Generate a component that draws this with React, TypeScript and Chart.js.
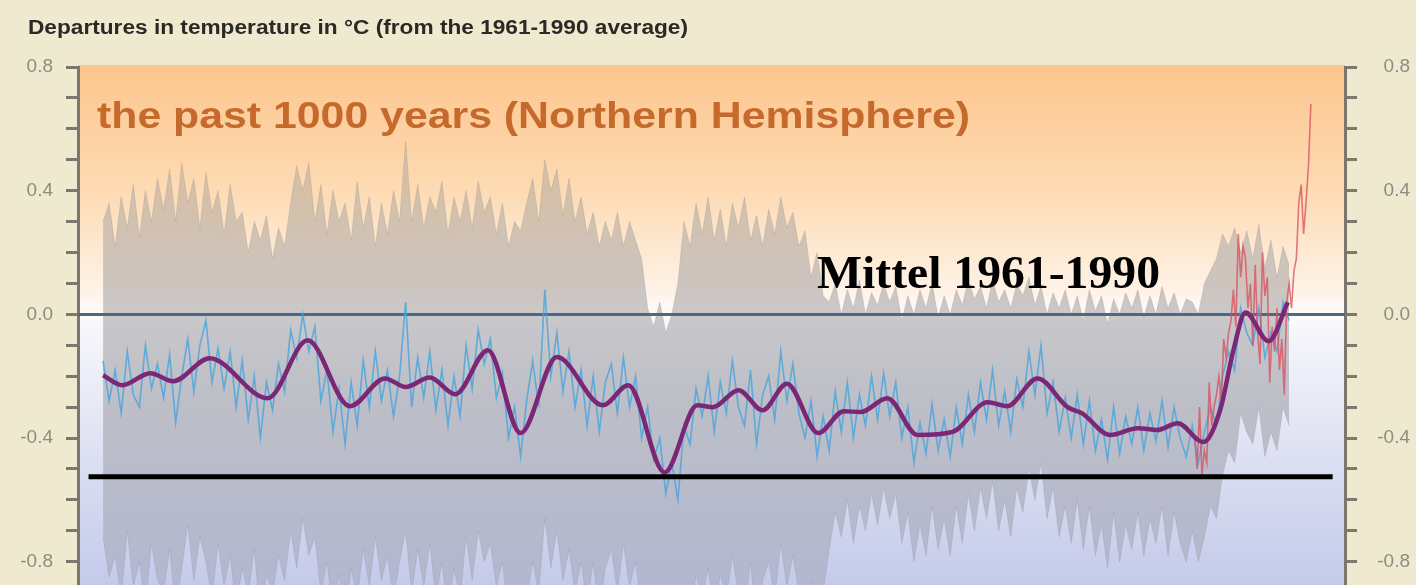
import { useEffect, useRef } from 'react';
import { Chart, registerables } from 'chart.js';

Chart.register(...registerables);

const TITLE = 'Departures in temperature in °C (from the 1961-1990 average)';
const SUBTITLE = 'the past 1000 years (Northern Hemisphere)';
const MEAN_LABEL = 'Mittel 1961-1990';

// Reconstruction (blue), sampled every 5 years 1000..1980
const RECON_START = 1000;
const RECON_STEP = 5;
const reconValues = [
  -0.15, -0.28, -0.18, -0.32, -0.12, -0.26, -0.30, -0.10, -0.24, -0.16, // 1000
  -0.27, -0.13, -0.35, -0.20, -0.08, -0.25, -0.10, -0.02, -0.22, -0.11, // 1050
  -0.24, -0.12, -0.30, -0.15, -0.34, -0.20, -0.40, -0.22, -0.31, -0.16, // 1100
  -0.25, -0.05, -0.14, 0.00, -0.12, -0.04, -0.28, -0.18, -0.38, -0.24, // 1150
  -0.42, -0.22, -0.36, -0.15, -0.30, -0.12, -0.28, -0.18, -0.33, -0.20, // 1200
  0.04, -0.30, -0.14, -0.27, -0.12, -0.31, -0.18, -0.36, -0.20, -0.33, // 1250
  -0.10, -0.24, -0.05, -0.16, -0.08, -0.27, -0.19, -0.40, -0.30, -0.46, // 1300
  -0.28, -0.15, -0.30, 0.08, -0.20, -0.06, -0.25, -0.12, -0.30, -0.18, // 1350
  -0.36, -0.20, -0.38, -0.22, -0.16, -0.32, -0.14, -0.30, -0.20, -0.40, // 1400
  -0.30, -0.47, -0.40, -0.58, -0.48, -0.60, -0.36, -0.42, -0.24, -0.33, // 1450
  -0.20, -0.38, -0.22, -0.32, -0.15, -0.30, -0.36, -0.18, -0.42, -0.26, // 1500
  -0.20, -0.34, -0.12, -0.28, -0.16, -0.32, -0.40, -0.28, -0.46, -0.33, // 1550
  -0.44, -0.25, -0.38, -0.22, -0.40, -0.26, -0.36, -0.20, -0.34, -0.19, // 1600
  -0.33, -0.22, -0.40, -0.30, -0.48, -0.35, -0.45, -0.29, -0.44, -0.34, // 1650
  -0.46, -0.30, -0.42, -0.26, -0.38, -0.22, -0.34, -0.18, -0.36, -0.25, // 1700
  -0.38, -0.21, -0.30, -0.12, -0.26, -0.10, -0.32, -0.22, -0.38, -0.27, // 1750
  -0.40, -0.26, -0.42, -0.28, -0.44, -0.34, -0.47, -0.30, -0.45, -0.33, // 1800
  -0.42, -0.30, -0.44, -0.32, -0.41, -0.28, -0.43, -0.30, -0.40, -0.46, // 1850
  -0.36, -0.48, -0.38, -0.30, -0.36, -0.20, -0.12, -0.18, 0.02, -0.06, // 1900
  -0.10, 0.02, -0.14, -0.06, -0.12, 0.04, -0.02, // 1950
];

// Uncertainty envelope (grey), same 5-year sampling
const upperValues = [
  0.30, 0.36, 0.22, 0.38, 0.28, 0.42, 0.25, 0.40, 0.30, 0.44,
  0.34, 0.47, 0.30, 0.49, 0.36, 0.44, 0.28, 0.46, 0.33, 0.40,
  0.26, 0.42, 0.30, 0.33, 0.20, 0.30, 0.24, 0.32, 0.18, 0.28,
  0.22, 0.36, 0.48, 0.40, 0.49, 0.30, 0.42, 0.26, 0.40, 0.30,
  0.36, 0.24, 0.43, 0.28, 0.38, 0.22, 0.36, 0.26, 0.40, 0.30,
  0.56, 0.30, 0.42, 0.28, 0.38, 0.33, 0.43, 0.26, 0.38, 0.30,
  0.40, 0.28, 0.43, 0.33, 0.38, 0.26, 0.36, 0.22, 0.30, 0.27,
  0.36, 0.44, 0.30, 0.50, 0.40, 0.47, 0.32, 0.44, 0.30, 0.38,
  0.26, 0.33, 0.22, 0.30, 0.24, 0.33, 0.22, 0.30, 0.24, 0.18,
  0.02, -0.04, 0.04, -0.06, 0.00, 0.10, 0.30, 0.22, 0.36, 0.26,
  0.38, 0.24, 0.34, 0.22, 0.36, 0.28, 0.38, 0.24, 0.32, 0.22,
  0.34, 0.26, 0.38, 0.28, 0.33, 0.22, 0.27, 0.12, 0.20, 0.06,
  0.04, 0.10, 0.00, 0.08, 0.02, 0.11, 0.00, 0.07, 0.03, 0.10,
  0.04, 0.09, -0.02, 0.06, 0.00, 0.08, 0.02, 0.10, -0.01, 0.06,
  0.00, 0.08, 0.03, 0.11, 0.05, 0.09, 0.02, 0.11, 0.04, 0.08,
  0.02, 0.10, 0.06, 0.12, 0.03, 0.09, 0.00, 0.07, 0.02, 0.08,
  0.00, 0.06, -0.02, 0.08, 0.01, 0.06, -0.03, 0.05, 0.00, 0.07,
  0.02, 0.08, -0.01, 0.06, 0.00, 0.09, 0.02, 0.07, 0.00, 0.05,
  0.04, 0.00, 0.10, 0.14, 0.18, 0.26, 0.22, 0.28, 0.20, 0.27,
  0.18, 0.29, 0.15, 0.24, 0.12, 0.22, 0.16,
];
const lowerValues = [
  -0.72, -0.85, -0.78, -0.92, -0.70, -0.88, -0.80, -0.95, -0.74, -0.86,
  -0.90, -0.76, -0.95, -0.82, -0.68, -0.86, -0.72, -0.80, -0.92, -0.74,
  -0.88, -0.78, -0.95, -0.82, -0.90, -0.76, -0.98, -0.84, -0.90, -0.78,
  -0.86, -0.70, -0.82, -0.66, -0.78, -0.72, -0.90, -0.80, -0.96, -0.84,
  -0.98, -0.82, -0.92, -0.76, -0.88, -0.72, -0.86, -0.78, -0.92, -0.80,
  -0.70, -0.90, -0.76, -0.88, -0.74, -0.92, -0.80, -0.96, -0.82, -0.92,
  -0.72, -0.86, -0.70, -0.80, -0.74, -0.88, -0.80, -0.98, -0.90, -1.00,
  -0.92, -0.80, -0.90, -0.66, -0.82, -0.70, -0.86, -0.76, -0.90, -0.80,
  -0.94, -0.80, -0.96, -0.82, -0.76, -0.90, -0.74, -0.88, -0.80, -0.96,
  -0.90, -1.00, -0.98, -1.00, -1.00, -1.00, -0.94, -0.98, -0.84, -0.92,
  -0.82, -0.96, -0.84, -0.92, -0.78, -0.90, -0.96, -0.80, -1.00, -0.86,
  -0.80, -0.92, -0.74, -0.88, -0.78, -0.90, -0.98, -0.86, -1.00, -0.90,
  -0.76, -0.64, -0.72, -0.60, -0.74, -0.62, -0.70, -0.58, -0.68, -0.56,
  -0.66, -0.58, -0.74, -0.64, -0.80, -0.68, -0.78, -0.62, -0.76, -0.66,
  -0.78, -0.62, -0.74, -0.58, -0.70, -0.56, -0.66, -0.54, -0.70, -0.60,
  -0.72, -0.56, -0.64, -0.50, -0.60, -0.48, -0.66, -0.56, -0.72, -0.62,
  -0.74, -0.60, -0.76, -0.62, -0.78, -0.68, -0.82, -0.64, -0.80, -0.68,
  -0.76, -0.64, -0.78, -0.66, -0.74, -0.62, -0.78, -0.64, -0.74, -0.80,
  -0.70, -0.80, -0.72, -0.62, -0.66, -0.52, -0.44, -0.48, -0.32, -0.38,
  -0.42, -0.30, -0.46, -0.38, -0.44, -0.30, -0.36,
];

// 40-year smoothed curve (purple)
const smoothYears = [
  1000, 1016, 1039, 1058, 1088, 1136, 1169, 1204, 1233, 1250, 1270, 1291, 1318, 1345, 1375,
  1413, 1434, 1464, 1491, 1504, 1525, 1545, 1565, 1591, 1612, 1626, 1648, 1673, 1702, 1731,
  1747, 1772, 1797, 1809, 1832, 1855, 1871, 1888, 1909, 1923, 1934, 1944, 1963, 1979,
];
const smoothValues = [
  -0.197, -0.229, -0.19, -0.216, -0.142, -0.271, -0.084, -0.297, -0.207, -0.235, -0.204, -0.258, -0.116, -0.384, -0.138,
  -0.294, -0.229, -0.511, -0.294, -0.30, -0.245, -0.31, -0.224, -0.384, -0.313, -0.316, -0.271, -0.39, -0.38, -0.284,
  -0.297, -0.207, -0.30, -0.32, -0.39, -0.368, -0.374, -0.352, -0.413, -0.31, -0.116, 0.006, -0.087, 0.039,
];

// Instrumental record (red), every 2 years 1902..1998
const INSTR_START = 1902;
const INSTR_STEP = 2;
const instrValues = [
  -0.40, -0.50, -0.30, -0.52, -0.44, -0.48, -0.22, -0.36, -0.30, -0.26,
  -0.20, -0.28, -0.08, -0.14, -0.06, -0.02, 0.08, -0.04, 0.26, 0.12,
  0.22, 0.18, 0.02, 0.10, -0.10, 0.16, -0.06, -0.16, 0.20, 0.06,
  0.12, -0.22, -0.04, -0.12, 0.02, -0.18, -0.08, -0.26, 0.04, 0.10,
  0.02, 0.14, 0.18, 0.36, 0.42, 0.26, 0.36, 0.48, 0.68,
];

const zeroLineYears = [979.3, 2026.2];
const zeroLineValue = 0;
const blackLineYears = [988, 2016];
const blackLineValue = -0.525;

const X_MIN = 979.3;
const X_MAX = 2026.2;
const Y_MIN = -1.0;
const Y_MAX = 0.8;
const yTickValues = [-0.8, -0.7, -0.6, -0.5, -0.4, -0.3, -0.2, -0.1, 0, 0.1, 0.2, 0.3, 0.4, 0.5, 0.6, 0.7, 0.8];
const yMajorValues = [0.8, 0.4, 0, -0.4, -0.8];
const yMajorLabels = ['0.8', '0.4', '0.0', '-0.4', '-0.8'];

const BEIGE = '#efe9d0';
const AXIS_COLOR = '#7a786e';
const TICK_LABEL_COLOR = '#8e8c80';

function series(start: number, step: number, values: number[]) {
  return values.map((v, i) => ({ x: start + i * step, y: v }));
}
function pairs(xs: number[], ys: number[]) {
  return xs.map((x, i) => ({ x, y: ys[i] }));
}

function drawFitted(ctx: CanvasRenderingContext2D, text: string, x: number, baseline: number, font: string, color: string, width: number) {
  ctx.save();
  ctx.font = font;
  ctx.fillStyle = color;
  ctx.textBaseline = 'alphabetic';
  ctx.textAlign = 'left';
  const w = ctx.measureText(text).width;
  ctx.translate(x, baseline);
  ctx.scale(width / w, 1);
  ctx.fillText(text, 0, 0);
  ctx.restore();
}

const backgroundPlugin = {
  id: 'bgPlugin',
  beforeDraw(chart: any) {
    const { ctx, chartArea } = chart;
    ctx.save();
    ctx.fillStyle = BEIGE;
    ctx.fillRect(0, 0, chart.width, chart.height);
    if (chartArea) {
      const y = chart.scales.y;
      const top = y.getPixelForValue(0.8);
      const bottom = y.getPixelForValue(-0.87);
      const g = ctx.createLinearGradient(0, top, 0, bottom);
      g.addColorStop(0, 'rgb(253,198,142)');
      g.addColorStop(0.24, 'rgb(253,219,180)');
      g.addColorStop(0.41, 'rgb(254,239,224)');
      g.addColorStop(0.477, 'rgb(255,250,247)');
      g.addColorStop(0.51, 'rgb(246,246,251)');
      g.addColorStop(0.72, 'rgb(224,227,243)');
      g.addColorStop(1, 'rgb(196,202,234)');
      ctx.fillStyle = g;
      ctx.fillRect(chartArea.left, chartArea.top - 2, chartArea.right - chartArea.left, chartArea.bottom - chartArea.top + 2);
    }
    ctx.restore();
  },
};

const textPlugin = {
  id: 'textPlugin',
  afterDatasetsDraw(chart: any) {
    const ctx = chart.ctx as CanvasRenderingContext2D;
    drawFitted(ctx, TITLE, 28, 34, 'bold 20px "Liberation Sans", Arial, sans-serif', '#2a2925', 660);
    drawFitted(ctx, SUBTITLE, 97, 128, 'bold 37px "Liberation Sans", Arial, sans-serif', '#c56a2c', 873);
    drawFitted(ctx, MEAN_LABEL, 817, 288, 'bold 47px "Liberation Serif", "Times New Roman", serif', '#000000', 343);
  },
};

function greyFill(context: any) {
  const chart = context.chart;
  const ca = chart.chartArea;
  if (!ca) return 'rgba(150,150,156,0.5)';
  const y = chart.scales.y;
  const g = chart.ctx.createLinearGradient(0, y.getPixelForValue(0.55), 0, y.getPixelForValue(-0.95));
  g.addColorStop(0, 'rgba(150,146,146,0.34)');
  g.addColorStop(0.3, 'rgba(150,148,150,0.48)');
  g.addColorStop(0.55, 'rgba(150,150,156,0.52)');
  g.addColorStop(0.75, 'rgba(148,150,160,0.46)');
  g.addColorStop(1, 'rgba(148,150,162,0.34)');
  return g;
}

function yAxis(position: 'left' | 'right') {
  return {
    type: 'linear' as const,
    position,
    min: Y_MIN,
    max: Y_MAX,
    afterBuildTicks: (axis: any) => {
      axis.ticks = yTickValues.map((v) => ({ value: v }));
    },
    afterFit: (axis: any) => {
      axis.width = position === 'left' ? 78 : 65;
    },
    ticks: {
      autoSkip: false,
      padding: 13,
      color: TICK_LABEL_COLOR,
      crossAlign: position === 'left' ? ('near' as const) : ('far' as const),
      font: { family: '"Liberation Sans", Arial, sans-serif', size: 19 },
      callback: (value: any) => {
        const i = yMajorValues.findIndex((m) => Math.abs(m - Number(value)) < 1e-6);
        return i >= 0 ? yMajorLabels[i] : '';
      },
    },
    grid: {
      drawOnChartArea: false,
      drawTicks: true,
      tickLength: 12,
      tickWidth: 3,
      tickColor: AXIS_COLOR,
    },
    border: { display: true, color: AXIS_COLOR, width: 3 },
  };
}

export default function App() {
  const canvasRef = useRef<HTMLCanvasElement | null>(null);

  useEffect(() => {
    const canvas = canvasRef.current;
    if (!canvas) return;
    const chart = new Chart(canvas, {
      type: 'line',
      data: {
        datasets: [
          {
            label: 'upper',
            data: series(RECON_START, RECON_STEP, upperValues),
            borderColor: 'rgba(150,148,150,0.3)',
            borderWidth: 1,
            backgroundColor: greyFill,
            fill: 1,
            pointRadius: 0,
            tension: 0,
            order: 7,
          },
          {
            label: 'lower',
            data: series(RECON_START, RECON_STEP, lowerValues),
            borderColor: 'rgba(148,150,160,0.3)',
            borderWidth: 1,
            fill: false,
            pointRadius: 0,
            tension: 0,
            order: 6,
          },
          {
            label: 'zero',
            data: pairs(zeroLineYears, zeroLineYears.map(() => zeroLineValue)),
            borderColor: '#4d6884',
            borderWidth: 3,
            pointRadius: 0,
            fill: false,
            order: 5,
          },
          {
            label: 'reconstruction',
            data: series(RECON_START, RECON_STEP, reconValues),
            borderColor: 'rgba(70,164,220,0.8)',
            borderWidth: 1.6,
            pointRadius: 0,
            fill: false,
            tension: 0,
            order: 4,
          },
          {
            label: 'instrumental',
            data: series(INSTR_START, INSTR_STEP, instrValues),
            borderColor: 'rgba(218,78,92,0.75)',
            borderWidth: 1.6,
            pointRadius: 0,
            fill: false,
            tension: 0,
            order: 3,
          },
          {
            label: 'smoothed',
            data: pairs(smoothYears, smoothValues),
            borderColor: '#7c2676',
            borderWidth: 4.5,
            pointRadius: 0,
            fill: false,
            cubicInterpolationMode: 'monotone',
            order: 2,
          },
          {
            label: 'black',
            data: pairs(blackLineYears, blackLineYears.map(() => blackLineValue)),
            borderColor: '#000000',
            borderWidth: 5,
            pointRadius: 0,
            fill: false,
            order: 1,
          },
        ],
      },
      options: {
        animation: false,
        responsive: false,
        devicePixelRatio: 1,
        parsing: false as any,
        normalized: true,
        layout: { padding: { top: 67, bottom: 0, left: 0, right: 6 } },
        plugins: {
          legend: { display: false },
          tooltip: { enabled: false },
        },
        scales: {
          x: {
            type: 'linear',
            min: X_MIN,
            max: X_MAX,
            display: false,
          },
          y: yAxis('left') as any,
          y2: yAxis('right') as any,
        },
      },
      plugins: [backgroundPlugin, textPlugin],
    });
    return () => chart.destroy();
  }, []);

  return (
    <div
      style={{
        position: 'fixed',
        left: 0,
        top: 0,
        width: 1416,
        height: 585,
        overflow: 'hidden',
        background: BEIGE,
      }}
    >
      <canvas ref={canvasRef} width={1416} height={648} style={{ display: 'block' }} />
    </div>
  );
}
